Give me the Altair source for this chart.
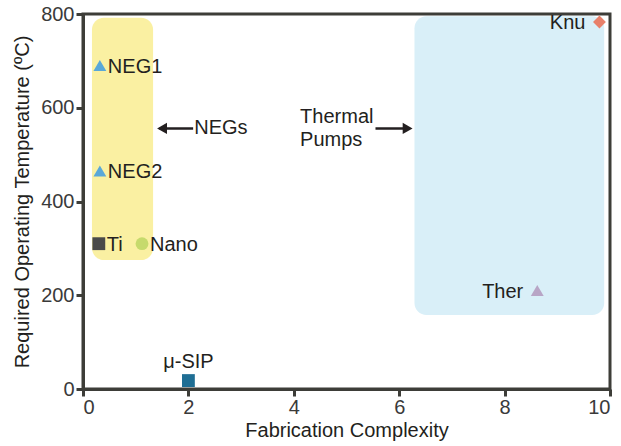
import altair as alt
import pandas as pd

# data
names = ["NEG1", "NEG2", "Ti", "Nano", "μ-SIP", "Knu", "Ther"]
complexity = [0.32, 0.32, 0.3, 1.12, 2.0, 9.8, 8.62]
temperature = [690, 465, 310, 310, 18, 783, 210]

marker_colors = ["#5aa8d8", "#5aa8d8", "#4a4a4a", "#c6da6c", "#1f6e94", "#e8806a", "#b8a5c6"]
marker_shapes = ["triangle-up", "triangle-up", "square", "circle", "square", "diamond", "triangle-up"]
marker_sizes = [165, 165, 150, 160, 200, 190, 210]

regions = ["NEGs", "Thermal Pumps"]
region_x = [0.17, 6.29]
region_x2 = [1.33, 9.89]
region_y = [275, 158]
region_y2 = [792, 795]
region_colors = ["#faf0a2", "#d9eff8"]

font = "Liberation Sans"
ink = "#231f20"
axis_col = "#3d3d38"
FS = 20

pts = pd.DataFrame({"name": names, "x": complexity, "y": temperature})
reg = pd.DataFrame({"region": regions, "x": region_x, "x2": region_x2, "y": region_y, "y2": region_y2})

axis_style = dict(grid=False, domainColor=axis_col, domainWidth=3, tickColor=axis_col, tickWidth=3, tickSize=7,
                  labelFont=font, labelFontSize=FS, labelColor="#3a3a3a",
                  titleFont=font, titleFontSize=FS, titleColor=ink, titleFontWeight="normal")

xs = alt.Scale(domain=[0, 10], nice=False, zero=False)
ys = alt.Scale(domain=[0, 800], nice=False, zero=False)
X = alt.X("x:Q", scale=xs, axis=alt.Axis(values=[0, 2, 4, 6, 8, 10], title="Fabrication Complexity",
                                          labelPadding=1, titlePadding=3, **axis_style))
Y = alt.Y("y:Q", scale=ys, axis=alt.Axis(values=[0, 200, 400, 600, 800], title="Required Operating Temperature (ºC)",
                                          labelPadding=2, titlePadding=8, **axis_style))

rects = alt.Chart(reg).mark_rect(cornerRadius=12).encode(
    x=X, x2="x2:Q", y=Y, y2="y2:Q",
    color=alt.Color("region:N", scale=alt.Scale(domain=regions, range=region_colors), legend=None),
)

points = alt.Chart(pts).mark_point(filled=True, opacity=1).encode(
    x=X, y=Y,
    color=alt.Color("name:N", scale=alt.Scale(domain=names, range=marker_colors), legend=None),
    shape=alt.Shape("name:N", scale=alt.Scale(domain=names, range=marker_shapes), legend=None),
    size=alt.Size("name:N", scale=alt.Scale(domain=names, range=marker_sizes), legend=None),
)

right_names = ["NEG1", "NEG2", "Ti", "Nano"]
left_names = ["Knu", "Ther"]

lab_right = alt.Chart(pts).transform_filter(
    alt.FieldOneOfPredicate(field="name", oneOf=right_names)
).mark_text(align="left", baseline="middle", dx=8, dy=1, fontSize=FS, font=font, color=ink).encode(
    x=X, y=Y, text="name:N")

lab_left = alt.Chart(pts).transform_filter(
    alt.FieldOneOfPredicate(field="name", oneOf=left_names)
).mark_text(align="right", baseline="middle", dx=-14, dy=1, fontSize=FS, font=font, color=ink).encode(
    x=X, y=Y, text="name:N")

lab_top = alt.Chart(pts).transform_filter(
    alt.FieldEqualPredicate(field="name", equal="μ-SIP")
).mark_text(align="center", baseline="bottom", dy=-9, fontSize=FS, font=font, color=ink).encode(
    x=X, y=Y, text="name:N")

# annotation arrows and texts
arrow_lines = pd.DataFrame({"x": [2.09, 5.55], "x2": [1.45, 6.15], "y": [556, 556]})
arrow_heads = pd.DataFrame({"x": [1.5, 6.16], "y": [556, 556], "dir": ["left", "right"]})
notes = pd.DataFrame({"text": ["NEGs", "Thermal", "Pumps"], "x": [2.11, 4.12, 4.12], "y": [556, 581, 532]})

alines = alt.Chart(arrow_lines).mark_rule(strokeWidth=2.5, color=ink).encode(x=X, x2="x2:Q", y=Y)
aheads = alt.Chart(arrow_heads).mark_point(filled=True, opacity=1, color=ink, size=130).encode(
    x=X, y=Y,
    shape=alt.Shape("dir:N", scale=alt.Scale(domain=["left", "right"], range=["triangle-left", "triangle-right"]), legend=None),
)
note_text = alt.Chart(notes).mark_text(align="left", baseline="middle", fontSize=FS, font=font, color=ink).encode(
    x=X, y=Y, text="text:N")

chart = alt.layer(rects, alines, aheads, points, lab_right, lab_left, lab_top, note_text).resolve_scale(
    color="independent", shape="independent", size="independent"
).properties(
    width=527, height=375,
    autosize=alt.AutoSizeParams(type="none"),
    padding={"left": 83, "top": 14, "right": 11, "bottom": 57},
).configure_view(
    stroke=axis_col, strokeWidth=3
)

chart.save("out.html", embed_options={"renderer": "svg", "actions": False})
